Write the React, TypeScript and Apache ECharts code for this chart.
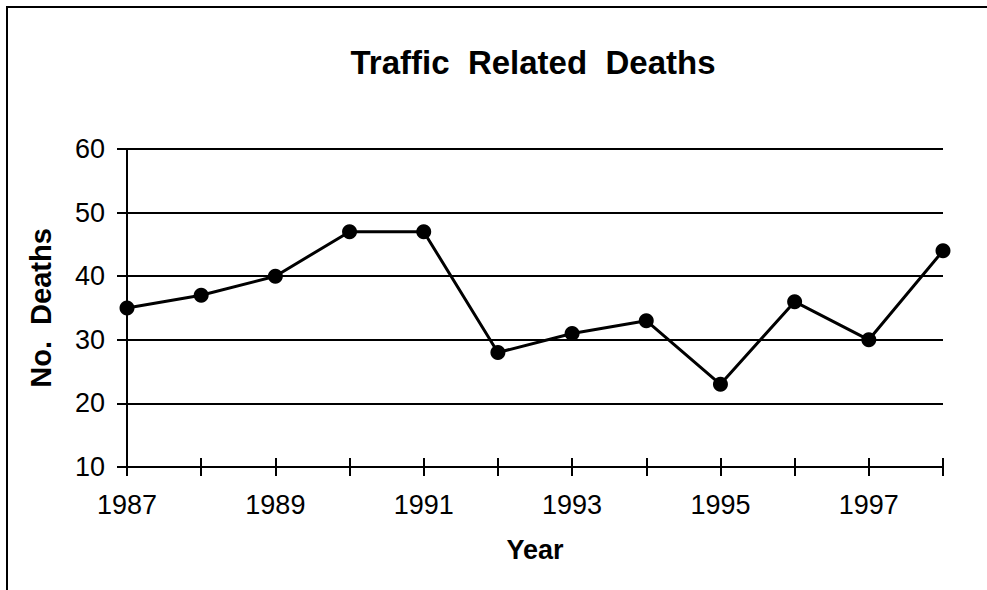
import React, { useEffect, useRef } from "react";
import * as echarts from "echarts";

const years = ["1987", "1988", "1989", "1990", "1991", "1992", "1993", "1994", "1995", "1996", "1997", "1998"];
const deaths = [35, 37, 40, 47, 47, 28, 31, 33, 23, 36, 30, 44];
const yMin = 10;
const yMax = 60;
const yStep = 10;
const titleText = "Traffic  Related  Deaths";
const xTitle = "Year";
const yTitle = "No.  Deaths";

const FONT = "'Liberation Sans', Arial, Helvetica, sans-serif";

export default function App() {
  const ref = useRef<HTMLDivElement>(null);
  useEffect(() => {
    if (!ref.current) return;
    const chart = echarts.init(ref.current, null, { renderer: "svg" });
    const black = "#000";
    const lineW = 2;
    chart.setOption({
      animation: false,
      backgroundColor: "#fff",
      graphic: [
        {
          type: "rect",
          shape: { x: 7, y: 7, width: 1200, height: 800 },
          style: { fill: "none", stroke: black, lineWidth: 2 },
          silent: true,
        },
        {
          type: "text",
          x: 533,
          y: 62,
          style: {
            text: titleText,
            fontFamily: FONT,
            fontSize: 33,
            fontWeight: "bold",
            fill: black,
            textAlign: "center",
            textVerticalAlign: "middle",
          },
          silent: true,
        },
      ],
      grid: { left: 127, right: 44, top: 149, bottom: 123 },
      xAxis: [
        {
          type: "category",
          data: years,
          boundaryGap: false,
          name: xTitle,
          nameLocation: "middle",
          nameGap: 69,
          nameTextStyle: { fontFamily: FONT, fontSize: 27, fontWeight: "bold", color: black },
          axisLine: { show: true, lineStyle: { color: black, width: lineW } },
          axisTick: { show: true, inside: false, length: 9, interval: 0, lineStyle: { color: black, width: lineW } },
          axisLabel: { interval: 1, margin: 24, fontFamily: FONT, fontSize: 27, color: black },
          splitLine: { show: false },
        },
        {
          type: "category",
          data: years,
          boundaryGap: false,
          position: "bottom",
          axisLine: { show: false },
          axisTick: { show: true, inside: true, length: 9, interval: 0, lineStyle: { color: black, width: lineW } },
          axisLabel: { show: false },
          splitLine: { show: false },
        },
      ],
      yAxis: [
        {
          type: "value",
          min: yMin,
          max: yMax,
          interval: yStep,
          name: yTitle,
          nameLocation: "middle",
          nameGap: 72,
          nameRotate: 90,
          nameTextStyle: { fontFamily: FONT, fontSize: 29, fontWeight: "bold", color: black },
          axisLine: { show: true, lineStyle: { color: black, width: lineW } },
          axisTick: { show: true, inside: false, length: 10, lineStyle: { color: black, width: lineW } },
          axisLabel: { margin: 22, fontFamily: FONT, fontSize: 27, color: black },
          splitLine: { show: true, lineStyle: { color: black, width: lineW } },
        },
        {
          type: "value",
          min: yMin,
          max: yMax,
          interval: yStep,
          position: "left",
          axisLine: { show: false },
          axisTick: { show: true, inside: true, length: 9, lineStyle: { color: black, width: lineW } },
          axisLabel: { show: false },
          splitLine: { show: false },
        },
      ],
      series: [
        {
          type: "line",
          data: deaths,
          xAxisIndex: 0,
          yAxisIndex: 0,
          symbol: "circle",
          symbolSize: 15,
          lineStyle: { color: black, width: 3 },
          itemStyle: { color: black },
        },
      ],
    });
    return () => chart.dispose();
  }, []);
  return (
    <div
      ref={ref}
      style={{ position: "fixed", left: 0, top: 0, width: 987, height: 590, background: "#fff" }}
    />
  );
}
